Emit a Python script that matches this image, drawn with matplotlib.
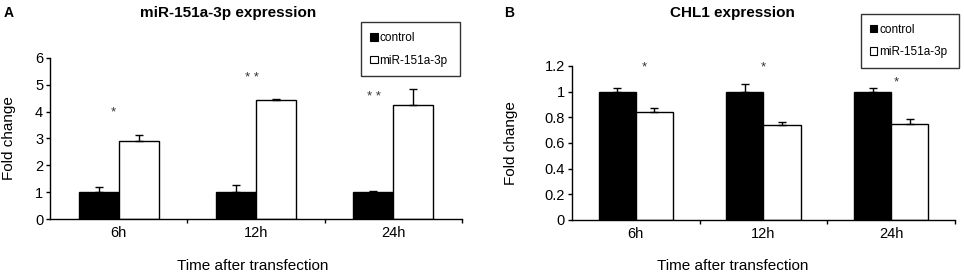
import numpy as np
import matplotlib
matplotlib.use("Agg")
import matplotlib.pyplot as plt
from matplotlib.patches import Patch

plt.rcParams['font.family'] = ['Liberation Sans', 'DejaVu Sans']

# === DATA ===
times = ["6h", "12h", "24h"]
series = ["control", "miR-151a-3p"]

mir_control = [1.0, 1.0, 1.0]
mir_control_err = [0.20, 0.25, 0.04]
mir_treated = [2.90, 4.43, 4.26]
mir_treated_err = [0.22, 0.03, 0.56]
mir_stars = ["*", "* *", "* *"]
mir_star_y = [3.95, 5.25, 4.55]
mir_star_dx = [-0.04, -0.03, -0.14]

chl_control = [1.0, 1.0, 1.0]
chl_control_err = [0.026, 0.06, 0.026]
chl_treated = [0.845, 0.74, 0.748]
chl_treated_err = [0.028, 0.026, 0.042]
chl_stars = ["*", "*", "*"]
chl_star_y = [1.19, 1.19, 1.07]
chl_star_dx = [0.07, 0.0, 0.04]


def draw_panel(ax, ctrl, ctrl_err, trt, trt_err, ymax, ystep, stars, star_y, star_dx):
    x = np.arange(1, len(times) + 1)
    w = 0.29
    ax.bar(x - w / 2, ctrl, w, color="black", edgecolor="black", linewidth=1.0, zorder=2)
    ax.bar(x + w / 2, trt, w, color="white", edgecolor="black", linewidth=1.0, zorder=2)
    ax.errorbar(x - w / 2, ctrl, yerr=[np.zeros(len(ctrl)), ctrl_err], fmt="none",
                ecolor="black", elinewidth=1.0, capsize=3, capthick=1.0, zorder=1)
    ax.errorbar(x + w / 2, trt, yerr=[np.zeros(len(trt)), trt_err], fmt="none",
                ecolor="black", elinewidth=1.0, capsize=3, capthick=1.0, zorder=3)
    for xi, s, yy, dx in zip(x, stars, star_y, star_dx):
        ax.text(xi + dx, yy, s, ha="center", va="center", fontsize=9.5, color="#333333")

    ax.set_xlim(0.5, len(times) + 0.5)
    ax.set_ylim(0, ymax)
    ax.set_yticks(np.arange(0, ymax + ystep / 2, ystep))
    ax.set_xticks(x)
    ax.set_xticklabels(times)
    ax.set_xticks(np.arange(1.5, len(times) + 0.6, 1), minor=True)
    ax.tick_params(axis="x", which="major", length=0, labelsize=10.5, pad=5)
    ax.tick_params(axis="x", which="minor", length=3, width=1, direction="out")
    ax.tick_params(axis="y", length=3, width=1, direction="out", labelsize=10.5, pad=2)
    for side in ("top", "right"):
        ax.spines[side].set_visible(False)
    ax.spines["left"].set_linewidth(1)
    ax.spines["bottom"].set_linewidth(1)
    ax.set_ylabel("Fold change", fontsize=11)


fig = plt.figure(figsize=(9.64, 2.79), dpi=100)

# panel A
ax1 = fig.add_axes([0.052, 0.215, 0.427, 0.578])
draw_panel(ax1, mir_control, mir_control_err, mir_treated, mir_treated_err,
           6, 1, mir_stars, mir_star_y, mir_star_dx)
ax1.yaxis.set_major_formatter(matplotlib.ticker.FormatStrFormatter("%d"))
ax1.yaxis.set_label_coords(-0.083, 0.5)

# panel B
ax2 = fig.add_axes([0.593, 0.2115, 0.398, 0.552])
draw_panel(ax2, chl_control, chl_control_err, chl_treated, chl_treated_err,
           1.2, 0.2, chl_stars, chl_star_y, chl_star_dx)
ax2.set_yticklabels(["0", "0.2", "0.4", "0.6", "0.8", "1", "1.2"])
ax2.yaxis.set_label_coords(-0.14, 0.5)

# titles, panel letters, x labels
fig.text(0.237, 0.955, "miR-151a-3p expression", ha="center", va="center",
         fontsize=11, fontweight="bold")
fig.text(0.76, 0.955, "CHL1 expression", ha="center", va="center",
         fontsize=11, fontweight="bold")
fig.text(0.004, 0.955, "A", ha="left", va="center", fontsize=10, fontweight="bold")
fig.text(0.523, 0.955, "B", ha="left", va="center", fontsize=10, fontweight="bold")
fig.text(0.262, 0.045, "Time after transfection", ha="center", va="center", fontsize=11)
fig.text(0.76, 0.045, "Time after transfection", ha="center", va="center", fontsize=11)

# legends
handles = [Patch(facecolor="black", edgecolor="black", linewidth=0.8, label=series[0]),
           Patch(facecolor="white", edgecolor="black", linewidth=0.8, label=series[1])]
for bbox in [(0.3745, 0.73, 0.103, 0.187), (0.893, 0.76, 0.102, 0.187)]:
    leg = fig.legend(handles=handles, loc="center", bbox_to_anchor=bbox, mode="expand",
                     fontsize=8.5, frameon=True, fancybox=False, edgecolor="black",
                     handlelength=0.6, handleheight=0.6, handletextpad=0.15,
                     labelspacing=0.9, borderpad=0.8, borderaxespad=0)
    leg.get_frame().set_linewidth(1.0)

plt.savefig("out.png", dpi=100)
